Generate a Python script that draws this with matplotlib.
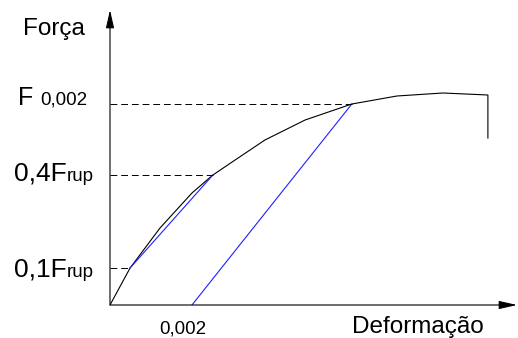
import matplotlib.pyplot as plt

plt.rcParams['font.family'] = ['Liberation Sans', 'DejaVu Sans']

# curva força x deformação
deformacao = [0, 0.00049, 0.00122, 0.0020, 0.00251, 0.00298, 0.00378,
              0.00476, 0.0059, 0.0070, 0.00812, 0.00922, 0.00922]
forca = [0, 37, 77, 112, 130, 143, 165, 185, 201, 209, 212, 210, 167]

# níveis de força marcados
f_01 = 37
f_04 = 130
f_002 = 201

# retas azuis (módulo secante e paralela a 0,002)
reta1_x = [0.00049, 0.00251]
reta1_y = [f_01, f_04]
reta2_x = [0.0020, 0.0059]
reta2_y = [0, f_002]

W, H = 518, 338
fig = plt.figure(figsize=(W / 100, H / 100), dpi=100)


def px(x, y):
    return x / W, 1 - y / H


x0, y0 = px(110, 305)
ax = fig.add_axes([x0, y0, 407 / W, 295 / H])
ax.set_xlim(0, 0.00993)
ax.set_ylim(0, 295)
ax.axis('off')

ax.plot(deformacao, forca, color='k', lw=0.8)
ax.plot(reta1_x, reta1_y, color='#1f1fff', lw=0.8)
ax.plot(reta2_x, reta2_y, color='#1f1fff', lw=0.8)

# linhas tracejadas
for xf, yf in [(0.00049, f_01), (0.00251, f_04), (0.0059, f_002)]:
    ax.plot([0, xf], [yf, yf], color='k', lw=0.7,
            dashes=(7, 4), clip_on=False)

# eixos com setas
ax.annotate('', xy=(1, 0), xytext=(0, 0), xycoords='axes fraction',
            arrowprops=dict(arrowstyle='-|>,head_length=1.1,head_width=0.25',
                            color='k', lw=0.8, shrinkA=0, shrinkB=0))
ax.annotate('', xy=(0, 1), xytext=(0, 0), xycoords='axes fraction',
            arrowprops=dict(arrowstyle='-|>,head_length=1.1,head_width=0.25',
                            color='k', lw=0.8, shrinkA=0, shrinkB=0))

# textos
fig.text(*px(23, 35), 'Força', fontsize=17.5, va='baseline', ha='left')
fig.text(*px(18, 105), 'F', fontsize=18, va='baseline', ha='left')
fig.text(*px(40, 105), '0,002', fontsize=13.5, va='baseline', ha='left')
fig.text(*px(14, 181), '0,4F', fontsize=19, va='baseline', ha='left')
fig.text(*px(67, 181), 'rup', fontsize=13.5, va='baseline', ha='left')
fig.text(*px(14, 277), '0,1F', fontsize=19, va='baseline', ha='left')
fig.text(*px(67, 277), 'rup', fontsize=13.5, va='baseline', ha='left')
fig.text(*px(183, 334), '0,002', fontsize=13.5, va='baseline', ha='center')
fig.text(*px(418, 333), 'Deformação', fontsize=17.5, va='baseline', ha='center')

fig.savefig('out.png', dpi=100)
